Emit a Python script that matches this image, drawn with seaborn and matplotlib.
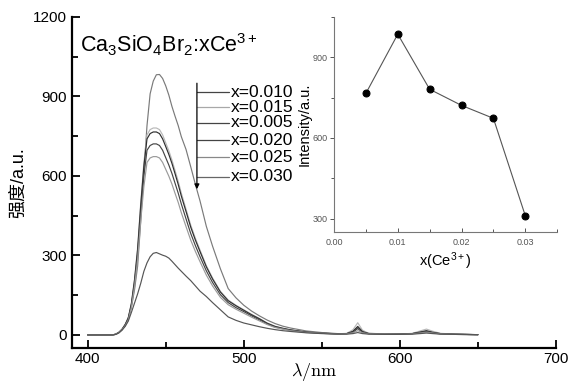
import numpy as np
import pandas as pd
import matplotlib
matplotlib.use("Agg")
import matplotlib.pyplot as plt
import seaborn as sns

# ---------------- data ----------------
wavelength = [400, 410, 416, 418, 420, 422, 424, 426, 428, 430,
              432, 434, 436, 438, 440, 442, 444, 446, 448, 450,
              452, 454, 456, 458, 460, 463, 466, 469, 472, 476,
              480, 485, 490, 495, 500, 505, 510, 515, 520, 525,
              530, 540, 550, 560,
              566, 570, 573, 576, 580, 590, 600, 608, 613, 617, 621, 626, 635, 650]

series_labels = ["x=0.010", "x=0.015", "x=0.005", "x=0.020", "x=0.025", "x=0.030"]

s_010 = [0, 0, 0, 2, 8, 20, 35, 65, 105, 170,
         260, 430, 615, 790, 910, 958, 982, 983, 968, 940,
         905, 862, 825, 790, 748, 700, 635, 568, 505, 410,
         335, 250, 175, 140, 112, 90, 72, 56, 43, 33,
         26, 15, 9, 5,
         5, 12, 28, 12, 6, 4, 3, 5, 10, 14, 9, 5, 3, 1]
s_015 = [0, 0, 0, 3, 10, 22, 40, 65, 120, 210,
         330, 500, 650, 755, 775, 781, 781, 775, 755, 725,
         695, 660, 620, 580, 535, 475, 415, 365, 320, 262,
         215, 165, 132, 112, 95, 78, 62, 45, 33, 25,
         19, 11, 7, 4,
         6, 20, 46, 18, 6, 3, 3, 6, 15, 22, 14, 6, 3, 1]
s_005 = [0, 0, 0, 3, 10, 21, 39, 64, 118, 206,
         323, 490, 637, 740, 760, 766, 766, 760, 740, 711,
         681, 647, 608, 568, 524, 466, 407, 358, 314, 257,
         211, 162, 129, 110, 93, 76, 61, 44, 32, 25,
         19, 11, 7, 4,
         5, 14, 32, 13, 5, 3, 3, 5, 11, 16, 10, 5, 3, 1]
s_020 = [0, 0, 0, 3, 9, 20, 37, 60, 111, 194,
         305, 462, 600, 697, 715, 721, 721, 715, 697, 669,
         641, 609, 572, 535, 494, 438, 383, 337, 295, 242,
         198, 152, 122, 103, 88, 72, 57, 42, 30, 23,
         18, 10, 6, 4,
         5, 10, 24, 10, 5, 3, 3, 5, 9, 13, 8, 4, 2, 1]
s_025 = [0, 0, 0, 3, 9, 19, 34, 56, 103, 181,
         284, 431, 560, 651, 668, 673, 673, 668, 651, 625,
         599, 569, 534, 500, 461, 409, 358, 315, 276, 226,
         185, 142, 114, 97, 82, 67, 53, 39, 28, 22,
         16, 9, 6, 3,
         4, 8, 16, 8, 4, 3, 2, 4, 7, 10, 7, 4, 2, 1]
s_030 = [0, 0, 0, 2, 8, 18, 32, 52, 85, 120,
         155, 195, 240, 272, 295, 308, 311, 306, 301, 297,
         290, 278, 265, 252, 240, 222, 205, 185, 165, 145,
         122, 95, 68, 55, 45, 38, 31, 25, 20, 16,
         13, 8, 5, 3,
         3, 5, 9, 5, 3, 2, 2, 3, 5, 7, 5, 3, 2, 1]

inset_x = [0.005, 0.010, 0.015, 0.020, 0.025, 0.030]
inset_y = [766, 986, 781, 721, 673, 311]

line_colors = ["#7a7a7a", "#b8b8b8", "#2e2e2e", "#454545", "#9a9a9a", "#555555"]
legend_line_colors = ["#444444", "#a8a8a8", "#444444", "#444444", "#888888", "#666666"]

# ---------------- figure ----------------
sns.set_theme(style="ticks")
plt.rcParams['font.family'] = ['Liberation Sans', 'Noto Sans CJK SC', 'DejaVu Sans']
plt.rcParams['mathtext.fontset'] = 'custom'
plt.rcParams['mathtext.rm'] = 'Liberation Sans'
plt.rcParams['mathtext.it'] = 'Liberation Sans'

fig = plt.figure(figsize=(5.72, 3.86), dpi=100)
fig.patch.set_facecolor("white")
ax = fig.add_axes([0.126, 0.098, 0.846, 0.858])
ax.set_facecolor("white")

all_series = [s_010, s_015, s_005, s_020, s_025, s_030]
frames = []
for lab, vals in zip(series_labels, all_series):
    frames.append(pd.DataFrame({"wl": wavelength, "I": vals, "s": lab}))
df = pd.concat(frames, ignore_index=True)

sns.lineplot(data=df, x="wl", y="I", hue="s", palette=line_colors,
             linewidth=0.85, ax=ax, legend=False, sort=False)

ax.set_xlim(390, 700)
ax.set_ylim(-50, 1200)
ax.set_xticks([400, 500, 600, 700])
ax.set_xticks([450, 550, 650], minor=True)
ax.set_yticks([0, 300, 600, 900, 1200])
ax.set_yticks([150, 450, 750, 1050], minor=True)
ax.tick_params(axis="both", which="major", length=6, width=1.3, labelsize=11,
               color="black", labelcolor="black", direction="in", pad=4)
ax.tick_params(axis="x", which="major", pad=2.5)
ax.tick_params(axis="both", which="minor", length=4, width=1.3, color="black",
               direction="in")
for sp in ["top", "right"]:
    ax.spines[sp].set_visible(False)
for sp in ["left", "bottom"]:
    ax.spines[sp].set_color("black")
    ax.spines[sp].set_linewidth(1.6)

ax.set_xlabel(r"$\lambda/\mathrm{nm}$", fontsize=13, math_fontfamily="cm",
              labelpad=-3, color="black")
ax.set_ylabel("强度/a.u.", fontsize=13, labelpad=4, color="black",
              family=['Liberation Sans', 'Noto Sans CJK SC'])

ax.text(0.017, 0.955, r"Ca$_3$SiO$_4$Br$_2$:xCe$^{3+}$", transform=ax.transAxes,
        fontsize=15.5, ha="left", va="top", color="black")

# legend built as an annotation with leader lines and a down arrow
arrow_x = 0.258
line_end = 0.324
label_ys = [0.773, 0.728, 0.680, 0.628, 0.577, 0.517]
ax.annotate("", xy=(arrow_x, 0.48), xytext=(arrow_x, 0.80),
            xycoords="axes fraction",
            arrowprops=dict(arrowstyle="-|>", color="black", lw=0.9,
                            mutation_scale=7, shrinkA=0, shrinkB=0))
for lab, yy, col in zip(series_labels, label_ys, legend_line_colors):
    ax.plot([arrow_x, line_end], [yy, yy], transform=ax.transAxes,
            color=col, lw=0.9)
    ax.text(line_end + 0.003, yy, lab, transform=ax.transAxes, fontsize=12.5,
            ha="left", va="center", color="black")

# ---------------- inset ----------------
axi = fig.add_axes([0.584, 0.399, 0.390, 0.557])
axi.set_facecolor("white")
axi.patch.set_alpha(0.0)
sns.lineplot(x=inset_x, y=inset_y, ax=axi, color="#555555", linewidth=0.8,
             marker="o", markersize=5, markerfacecolor="black",
             markeredgecolor="black")
axi.set_xlim(0.0, 0.035)
axi.set_ylim(250, 1050)
axi.set_xticks([0.00, 0.01, 0.02, 0.03])
axi.set_xticklabels(["0.00", "0.01", "0.02", "0.03"])
axi.set_xticks([0.005, 0.015, 0.025, 0.035], minor=True)
axi.set_yticks([300, 600, 900])
axi.set_yticks([450, 750, 1050], minor=True)
axi.tick_params(axis="x", which="major", length=3, width=0.7, labelsize=6.5,
                color="#555555", labelcolor="#555555", pad=4, direction="in")
axi.tick_params(axis="x", which="minor", length=2, width=0.7,
                color="#555555", direction="in")
axi.tick_params(axis="y", which="major", length=3, width=0.7, labelsize=6.5,
                color="#555555", labelcolor="#555555", pad=1.5, direction="out")
axi.tick_params(axis="y", which="minor", length=2, width=0.7,
                color="#555555", direction="out")
for sp in ["top", "right"]:
    axi.spines[sp].set_visible(False)
for sp in ["left", "bottom"]:
    axi.spines[sp].set_color("#777777")
    axi.spines[sp].set_linewidth(0.8)
axi.set_xlabel(r"x(Ce$^{3+}$)", fontsize=10.5, labelpad=3, color="black")
axi.set_ylabel("Intensity/a.u.", fontsize=10.5, labelpad=1, color="black")

fig.savefig("out.png", dpi=100, facecolor="white")
